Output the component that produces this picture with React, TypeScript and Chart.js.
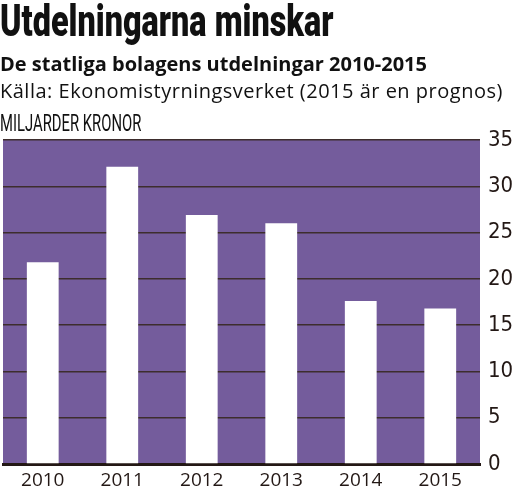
import Chart from 'chart.js/auto'
import { useEffect, useRef } from 'react'

const years = ['2010', '2011', '2012', '2013', '2014', '2015']
const payouts = [21.8, 32.1, 26.9, 26.0, 17.6, 16.8]
const yMax = 35
const yStep = 5

const purple = '#745c9c'
const ink = '#231815'

const plotBackground = {
  id: 'plotBackground',
  beforeDraw(chart: Chart) {
    const { ctx, chartArea } = chart
    ctx.save()
    ctx.fillStyle = purple
    ctx.fillRect(chartArea.left, chartArea.top, chartArea.right - chartArea.left, chartArea.bottom - chartArea.top)
    ctx.restore()
  },
}

function PayoutChart() {
  const ref = useRef<HTMLCanvasElement>(null)

  useEffect(() => {
    if (!ref.current) return
    const chart = new Chart(ref.current, {
      type: 'bar',
      data: {
        labels: years,
        datasets: [
          {
            label: 'Miljarder kronor',
            data: payouts,
            backgroundColor: '#ffffff',
            borderWidth: 0,
            barPercentage: 0.4,
            categoryPercentage: 1,
          },
        ],
      },
      options: {
        animation: false,
        responsive: false,
        maintainAspectRatio: false,
        layout: { padding: { top: 140, left: 3, right: 0, bottom: 0 } },
        plugins: {
          legend: { display: false },
          tooltip: { enabled: false },
        },
        scales: {
          x: {
            z: 1,
            grid: { display: false },
            border: { display: true, color: ink, width: 3 },
            ticks: {
              color: ink,
              padding: -3,
              font: { family: 'Open Sans', size: 19 },
            },
            afterFit(scale) {
              scale.height = 29
            },
          },
          y: {
            position: 'right',
            min: 0,
            max: yMax,
            grid: {
              color: '#3d2d2d',
              lineWidth: 1.5,
              drawTicks: false,
            },
            border: { display: false },
            ticks: {
              stepSize: yStep,
              color: ink,
              padding: 8,
              font: { family: "'DejaVu Sans Condensed', Roboto", size: 22 },
            },
            afterFit(scale) {
              scale.width = 35
            },
          },
        },
      },
      plugins: [plotBackground],
    })
    return () => chart.destroy()
  }, [])

  return <canvas ref={ref} width={515} height={493} style={{ position: 'absolute', left: 0, top: 0 }} />
}

export default function App() {
  return (
    <div style={{ position: 'absolute', left: 0, top: 0, width: 515, height: 493, background: '#fff', overflow: 'hidden', color: ink }}>
      <PayoutChart />
      <div
        style={{
          position: 'absolute',
          left: 0,
          top: -5,
          fontFamily: 'Roboto',
          fontWeight: 900,
          fontSize: 45,
          lineHeight: '52px',
          whiteSpace: 'nowrap',
          transform: 'scaleX(0.72)',
          transformOrigin: 'left top',
          color: '#111',
        }}
      >
        Utdelningarna minskar
      </div>
      <div
        style={{
          position: 'absolute',
          left: 0,
          top: 50,
          fontFamily: 'Open Sans',
          fontWeight: 'bold',
          fontSize: 20,
          lineHeight: '28px',
          whiteSpace: 'nowrap',
          color: '#111',
        }}
      >
        De statliga bolagens utdelningar 2010-2015
      </div>
      <div
        style={{
          position: 'absolute',
          left: 0,
          top: 77,
          fontFamily: 'Open Sans',
          fontSize: 20,
          letterSpacing: 0.5,
          lineHeight: '28px',
          whiteSpace: 'nowrap',
          color: '#111',
        }}
      >
        Källa: Ekonomistyrningsverket (2015 är en prognos)
      </div>
      <div
        style={{
          position: 'absolute',
          left: 0,
          top: 111,
          fontFamily: 'Roboto',
          fontSize: 23,
          lineHeight: '26px',
          whiteSpace: 'nowrap',
          transform: 'scaleX(0.645)',
          transformOrigin: 'left top',
          color: '#111',
        }}
      >
        MILJARDER KRONOR
      </div>
    </div>
  )
}
